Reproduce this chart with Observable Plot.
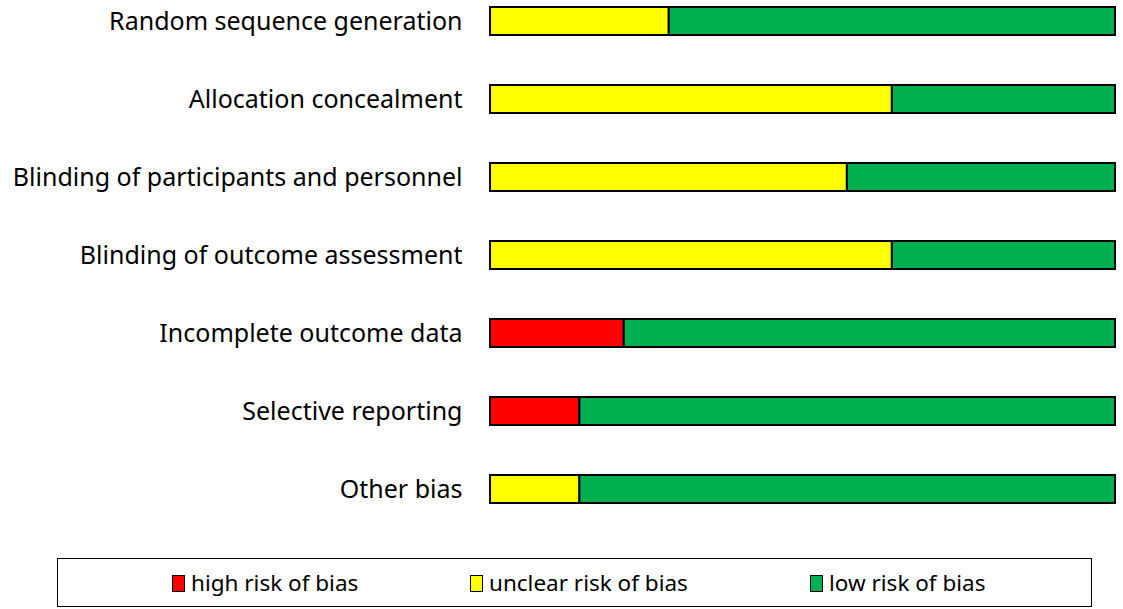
<!DOCTYPE html>
<html>
<head>
<meta charset="utf-8">
<script src="https://cdn.jsdelivr.net/npm/d3@7"></script>
<script src="https://cdn.jsdelivr.net/npm/@observablehq/plot@0.6"></script>
<style>
  html, body { margin: 0; padding: 0; background: #fff; }
  #wrap { position: relative; width: 1123px; height: 609px; font-family: "Noto Sans", sans-serif; }
  #legend { position: absolute; left: 57px; top: 558px; width: 1033px; height: 47px; border: 1.5px solid #000; }
  .item { position: absolute; top: 10px; font-size: 22.5px; line-height: 28px; color: #000; display: flex; align-items: center; }
  .sw { display: inline-block; width: 11px; height: 15px; border: 1.5px solid #000; margin-right: 6px; }
</style>
</head>
<body>
<div id="wrap">
  <div id="chart"></div>
  <div id="legend"></div>
</div>
<script>
const domains = [
  "Random sequence generation",
  "Allocation concealment",
  "Blinding of participants and personnel",
  "Blinding of outcome assessment",
  "Incomplete outcome data",
  "Selective reporting",
  "Other bias"
];
const highRisk    = [0, 0, 0, 0, 21.4, 14.3, 0];
const unclearRisk = [28.6, 64.3, 57.1, 64.3, 0, 0, 14.3];
const lowRisk     = [71.4, 35.7, 42.9, 35.7, 78.6, 85.7, 85.7];
const riskLabels  = ["high risk of bias", "unclear risk of bias", "low risk of bias"];
const riskColors  = ["#FF0000", "#FFFF00", "#00B050"];

const rows = [];
domains.forEach((d, i) => {
  [highRisk, unclearRisk, lowRisk].forEach((arr, k) => {
    if (arr[i] > 0) rows.push({domain: d, risk: riskLabels[k], value: arr[i]});
  });
});

const chart = Plot.plot({
  width: 1123,
  height: 540,
  marginLeft: 490,
  marginRight: 8,
  marginTop: 4,
  marginBottom: 35,
  style: {fontFamily: "Noto Sans, sans-serif", fontSize: "25px", color: "#000", background: "#fff"},
  x: {domain: [0, 100], axis: null},
  y: {domain: domains, paddingInner: 0.643, paddingOuter: 0, label: null},
  color: {domain: riskLabels, range: riskColors},
  marks: [
    Plot.barX(rows, Plot.stackX({
      x: "value", y: "domain", fill: "risk",
      order: riskLabels,
      stroke: "#000", strokeWidth: 2
    })),
    Plot.axisY({tickSize: 0, tickPadding: 28, fontSize: 25, label: null})
  ]
});
document.getElementById("chart").appendChild(chart);

const legend = document.getElementById("legend");
const lefts = [114, 412, 752];
riskLabels.forEach((lab, k) => {
  const it = document.createElement("div");
  it.className = "item";
  it.style.left = lefts[k] + "px";
  const sw = document.createElement("span");
  sw.className = "sw";
  sw.style.background = riskColors[k];
  it.appendChild(sw);
  it.appendChild(document.createTextNode(lab));
  legend.appendChild(it);
});
</script>
</body>
</html>
